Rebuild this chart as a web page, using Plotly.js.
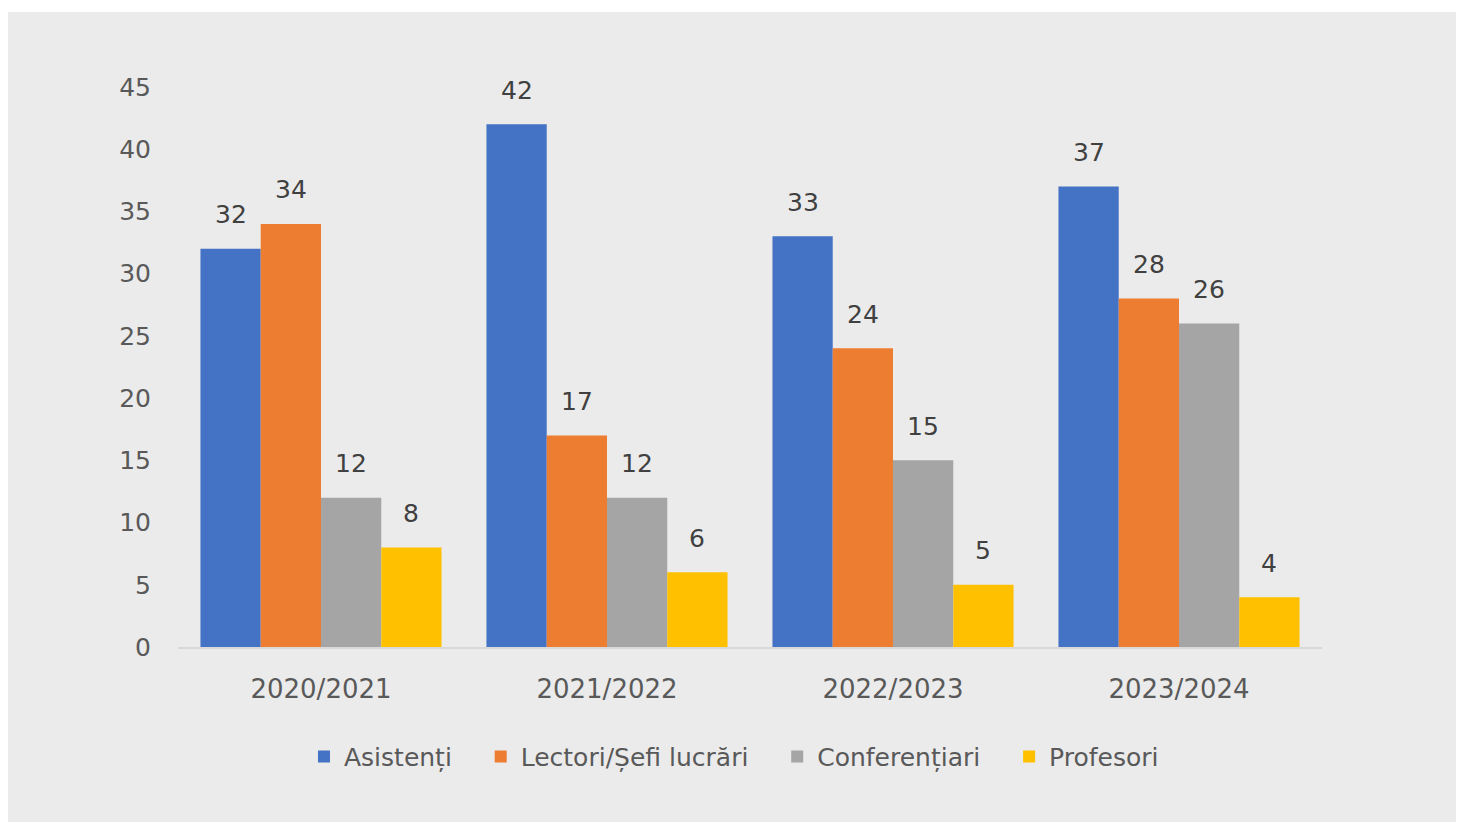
<!DOCTYPE html>
<html>
<head>
<meta charset="utf-8">
<script src="https://cdn.plot.ly/plotly-3.0.1.min.js"></script>
<style>
  html, body { margin: 0; padding: 0; background: #ffffff; }
  #panel { position: absolute; left: 8px; top: 12px; width: 1448px; height: 810px; background: #ebebeb; }
  #chart { width: 1448px; height: 810px; }
</style>
</head>
<body>
<div id="panel"><div id="chart"></div></div>
<script>
const categories = ["2020/2021", "2021/2022", "2022/2023", "2023/2024"];
const seriesNames = ["Asistenți", "Lectori/Șefi lucrări", "Conferențiari", "Profesori"];
const asistenti = [32, 42, 33, 37];
const lectori = [34, 17, 24, 28];
const conferentiari = [12, 12, 15, 26];
const profesori = [8, 6, 5, 4];
const yTicks = [0, 5, 10, 15, 20, 25, 30, 35, 40, 45];
const colors = ["#4472c4", "#ed7d31", "#a5a5a5", "#ffc000"];

const seriesValues = [asistenti, lectori, conferentiari, profesori];
const W = 1448, H = 810;
const margin = {l: 170, r: 134, t: 75, b: 175, pad: 0};
const bargap = 0.157;
const plotW = W - margin.l - margin.r;
const barPx = plotW / categories.length * (1 - bargap) / seriesValues.length;
const legendPad = "\u00a0\u00a0\u00a0";

const traces = seriesValues.map((vals, i) => ({
  type: "bar",
  name: seriesNames[i] + (i < seriesValues.length - 1 ? legendPad : ""),
  x: categories,
  y: vals,
  marker: {color: colors[i], line: {width: 0}},
  hoverinfo: "x+y"
}));

const annotations = [];
seriesValues.forEach((vals, i) => {
  vals.forEach((v, j) => {
    annotations.push({
      x: categories[j], y: v, xref: "x", yref: "y",
      text: String(v), showarrow: false,
      xshift: (i - (seriesValues.length - 1) / 2) * barPx,
      yshift: 34, yanchor: "middle", xanchor: "center",
      font: {family: "DejaVu Sans", size: 25, color: "#404040"}
    });
  });
});

const layout = {
  width: W, height: H,
  margin: margin,
  paper_bgcolor: "#ebebeb",
  plot_bgcolor: "#ebebeb",
  barmode: "group",
  bargap: bargap,
  bargroupgap: 0,
  showlegend: true,
  legend: {
    orientation: "h",
    x: 0.486, xanchor: "center",
    y: -0.196, yanchor: "middle",
    font: {family: "DejaVu Sans", size: 25, color: "#595959"},
    bgcolor: "rgba(0,0,0,0)"
  },
  xaxis: {
    type: "category",
    showline: true, linecolor: "#d9d9d9", linewidth: 2,
    showgrid: false, zeroline: false,
    ticks: "outside", ticklen: 18, tickcolor: "rgba(0,0,0,0)",
    tickfont: {family: "DejaVu Sans", size: 26, color: "#595959"}
  },
  yaxis: {
    range: [0, 45],
    tickvals: yTicks,
    ticktext: yTicks.map(String),
    showline: false, showgrid: false, zeroline: false,
    ticks: "outside", ticklen: 21, tickcolor: "rgba(0,0,0,0)",
    tickfont: {family: "DejaVu Sans", size: 25, color: "#595959"}
  },
  annotations: annotations
};

Plotly.newPlot("chart", traces, layout, {displayModeBar: false, staticPlot: true});
</script>
</body>
</html>
